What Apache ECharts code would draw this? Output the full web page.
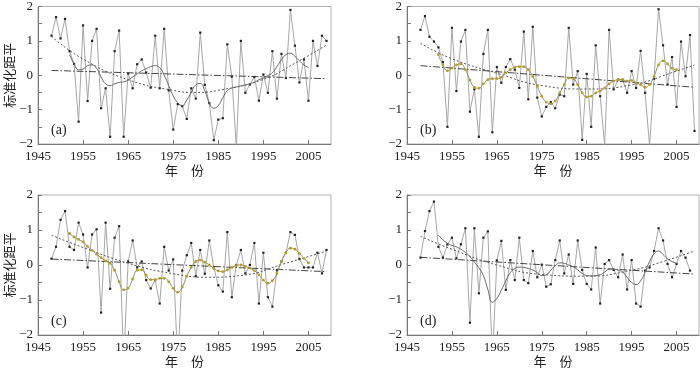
<!DOCTYPE html>
<html>
<head>
<meta charset="utf-8">
<script src="https://cdn.jsdelivr.net/npm/echarts@6/dist/echarts.min.js"></script>
<style>
  html, body { margin: 0; padding: 0; background: #fff; }
  #chart { width: 700px; height: 369px; }
</style>
</head>
<body>
<div id="chart"></div>
<script>
// años de inicio de cada serie
const rawStart = 1948;
const smoothStart = 1952;

// (a) datos anuales, media móvil, tendencia polinómica y lineal
const rawA = [1.15, 1.69, 1.07, 1.64, 0.70, 0.33, -1.35, 1.45, -0.75, 1.0,
  1.35, -0.96, -0.38, -1.79, 0.70, 1.30, -1.79, 0.05, -0.38, 0.32,
  0.46, 0.08, -0.36, 1.15, -0.38, 1.35, -0.44, -1.58, -0.84, -0.9,
  -1.27, -0.38, -0.68, 1.24, -0.28, -0.81, -1.89, -1.29, -1.25, 0.90,
  -0.04, -2.1, 1.0, -0.51, -0.27, -0.05, -0.74, 0.02, -0.51, 0.70,
  -0.68, 0.62, -0.08, 1.90, 0.86, -0.21, 0.46, -0.74, 1.0, 0.27,
  1.15, 1.0];
const smoothA = [0.6, 0.33, 0.16, 0.18, 0.28, 0.3, 0.2, -0.05, -0.25, -0.3,
  -0.25, -0.21, -0.19, -0.14, -0.05, 0.04, 0.13, 0.19, 0.25, 0.28,
  0.22, 0.0, -0.3, -0.6, -0.8, -0.88, -0.72, -0.5, -0.28, -0.24,
  -0.45, -0.8, -0.96, -0.88, -0.65, -0.45, -0.37, -0.34, -0.31, -0.28,
  -0.25, -0.2, -0.13, -0.08, -0.01, 0.07, 0.25, 0.45, 0.6, 0.64,
  0.55, 0.42, 0.3, 0.22];
const polyYearsA = [1948, 1955, 1965, 1975, 1980, 1985, 1995, 2002, 2009];
const polyA = [1.13, 0.47, -0.13, -0.44, -0.5, -0.44, -0.12, 0.35, 0.88];
const linYears = [1948, 2009];
const linA = [0.14, -0.10];

// (b)
const rawB = [1.32, 1.72, 1.12, 0.98, 0.81, 0.38, -1.5, 1.38, -0.46, 0.98,
  1.32, -1.06, -0.41, -1.79, 0.62, 1.32, -1.66, 0.24, -0.22, 0.24,
  0.47, 0.16, -0.37, 1.27, -0.7, 1.41, -0.65, -1.2, -0.92, -0.78,
  -0.96, -0.56, -0.61, 1.38, -0.27, 0.12, -1.88, 0.04, -1.5, 0.87,
  -0.61, -2.05, 1.32, -0.41, -0.13, -0.13, -0.51, 0.12, -0.37, 0.71,
  -0.51, -2.05, -0.1, 1.92, 0.87, -0.27, 0.53, -0.92, 0.98, -0.03,
  1.17, -1.62];
const smoothB = [0.6, 0.3, 0.13, 0.21, 0.3, 0.33, 0.16, -0.14, -0.35, -0.38,
  -0.25, -0.13, -0.1, -0.1, -0.06, 0.07, 0.16, 0.23, 0.25, 0.25,
  0.16, -0.03, -0.32, -0.61, -0.78, -0.83, -0.75, -0.51, -0.27, -0.08,
  -0.1, -0.27, -0.51, -0.63, -0.61, -0.51, -0.46, -0.37, -0.25, -0.17,
  -0.13, -0.13, -0.17, -0.15, -0.22, -0.27, -0.35, -0.27, -0.03, 0.3,
  0.42, 0.33, 0.21, 0.16];
const polyYearsB = [1948, 1955, 1965, 1975, 1985, 1995, 2005, 2009];
const polyB = [0.93, 0.48, 0.06, -0.3, -0.4, -0.28, 0.12, 0.3];
const linB = [0.28, -0.35];

// (c)
const rawC = [0.18, 0.52, 1.29, 1.54, 0.52, 0.43, 1.21, 0.87, -0.07, 0.87,
  1.02, -1.36, 1.21, -0.68, 0.78, 1.11, -2.8, 0.1, 0.7, -0.07,
  0.1, -0.43, -0.67, -0.43, -1.1, 0.52, -0.16, 0.16, -2.8, -0.16,
  0.28, 0.63, -0.32, 0.43, -0.25, 0.7, -0.07, -0.58, -0.76, 0.94,
  -0.92, 0.0, 0.43, -0.24, 0.0, 0.63, -1.1, 0.35, -0.92, -1.19,
  -0.15, 0.1, 0.35, 0.94, 0.86, 0.17, -0.07, -0.07, -0.07, 0.35,
  -0.24, 0.43];
const smoothC = [0.9, 0.8, 0.73, 0.66, 0.53, 0.42, 0.31, 0.21, 0.12, 0.05,
  -0.15, -0.48, -0.71, -0.66, -0.4, -0.15, -0.14, -0.29, -0.42, -0.42,
  -0.38, -0.38, -0.48, -0.67, -0.78, -0.63, -0.32, -0.07, 0.1, 0.14,
  0.08, 0.0, -0.1, -0.17, -0.19, -0.14, -0.07, -0.02, 0.0, -0.04,
  -0.09, -0.16, -0.28, -0.43, -0.52, -0.45, -0.24, 0.1, 0.35, 0.48,
  0.45, 0.33, 0.19, 0.06];
const polyYearsC = [1948, 1955, 1965, 1975, 1983, 1990, 2000, 2009];
const polyC = [0.85, 0.5, 0.05, -0.25, -0.35, -0.3, 0.05, 0.4];
const linC = [0.17, -0.19];

// (d)
const rawD = [0.21, 0.97, 1.54, 1.81, 0.52, 0.21, 0.59, 0.78, 0.19, 0.59,
  1.05, -1.65, 1.05, -0.81, 0.78, 0.96, -2.8, 0.13, 0.69, -0.71,
  0.14, -0.43, 0.78, -0.43, -0.52, 0.4, -0.35, 0.01, -0.62, -0.55,
  0.14, 0.7, -0.24, 0.3, -0.54, 0.7, -0.14, -0.54, -0.7, 0.5,
  -1.1, 0.03, 0.14, -0.14, -0.35, 0.3, -0.7, 0.14, -1.1, -1.19,
  -0.16, -0.07, 0.4, 1.05, 0.7, 0.03, -0.35, 0.03, 0.4, 0.21,
  -0.16];
const smoothD = [0.85, 0.72, 0.62, 0.56, 0.52, 0.45, 0.36, 0.24, 0.08, -0.08,
  -0.3, -0.7, -1.06, -0.95, -0.72, -0.45, -0.22, -0.1, -0.06, -0.07,
  -0.1, -0.14, -0.22, -0.3, -0.28, -0.15, -0.02, 0.06, 0.05, 0.0,
  -0.05, -0.14, -0.24, -0.3, -0.31, -0.3, -0.28, -0.2, -0.12, -0.12,
  -0.15, -0.2, -0.35, -0.5, -0.56, -0.45, -0.2, 0.1, 0.32, 0.4,
  0.3, 0.18, 0.1, 0.05];
const polyYearsD = [1948, 1955, 1965, 1975, 1985, 1995, 2002, 2009];
const polyD = [0.82, 0.45, 0.0, -0.27, -0.32, -0.15, 0.1, 0.4];
const linD = [0.22, -0.26];

const panelNames = ['(a)', '(b)', '(c)', '(d)'];
const yTitle = '标准化距平';
const xTitle = '年\u3000份';

function pares(inicio, valores) {
  return valores.map((v, i) => [inicio + i, v]);
}
function zipear(xs, ys) {
  return xs.map((x, i) => [x, ys[i]]);
}

const paneles = [
  { raw: rawA, smooth: smoothA, olive: false, py: polyYearsA, p: polyA, lin: linA },
  { raw: rawB, smooth: smoothB, olive: true, py: polyYearsB, p: polyB, lin: linB },
  { raw: rawC, smooth: smoothC, olive: true, py: polyYearsC, p: polyC, lin: linC },
  { raw: rawD, smooth: smoothD, olive: false, py: polyYearsD, p: polyD, lin: linD }
];

const grids = [
  { left: 38, top: 4, width: 293, height: 140 },
  { left: 407, top: 4, width: 292, height: 140 },
  { left: 38, top: 195, width: 293, height: 140 },
  { left: 407, top: 195, width: 292, height: 140 }
].map(g => Object.assign(g, { show: true, borderColor: '#b0b0b0', borderWidth: 1, backgroundColor: 'transparent' }));

const fuenteNum = "'Liberation Serif', 'DejaVu Serif', serif";
const fuenteCJK = "'Noto Sans CJK SC', sans-serif";
const ejeColor = '#777';

const xAxes = grids.map((g, i) => ({
  type: 'value',
  gridIndex: i,
  min: 1945,
  max: 2010,
  interval: 10,
  name: xTitle,
  nameLocation: 'middle',
  nameGap: 20,
  nameTextStyle: { fontFamily: fuenteCJK, fontSize: 13, color: '#222' },
  axisLine: { onZero: false, lineStyle: { color: ejeColor } },
  axisTick: { inside: true, length: 4, lineStyle: { color: ejeColor } },
  axisLabel: {
    showMaxLabel: false,
    margin: 6,
    fontFamily: fuenteNum, fontSize: 13, color: '#222',
    formatter: v => String(v)
  },
  splitLine: { show: false }
}));

const yAxes = grids.map((g, i) => ({
  type: 'value',
  gridIndex: i,
  min: -2,
  max: 2,
  interval: 1,
  name: (i % 2 === 0) ? yTitle : '',
  nameLocation: 'middle',
  nameGap: 17,
  nameTextStyle: { fontFamily: fuenteCJK, fontSize: 13, color: '#222' },
  axisLine: { onZero: false, lineStyle: { color: ejeColor } },
  axisTick: { inside: true, length: 4, lineStyle: { color: ejeColor } },
  minorTick: { show: true, splitNumber: 2, length: 4, lineStyle: { color: ejeColor } },
  axisLabel: {
    margin: 5,
    fontFamily: fuenteNum, fontSize: 13, color: '#222',
    formatter: v => String(v).replace('-', '\u2212')
  },
  splitLine: { show: false },
  minorSplitLine: { show: false }
}));

const series = [];
paneles.forEach((p, i) => {
  series.push({
    type: 'line', xAxisIndex: i, yAxisIndex: i,
    data: pares(rawStart, p.raw),
    symbol: 'rect', symbolSize: 2.2,
    itemStyle: { color: '#222' },
    lineStyle: { color: '#a6a6a6', width: 1 },
    z: 2
  });
  series.push({
    type: 'line', xAxisIndex: i, yAxisIndex: i,
    data: zipear(linYears, p.lin),
    showSymbol: false,
    lineStyle: { color: '#444', width: 1, type: [7, 2, 1.5, 2] },
    z: 3
  });
  series.push({
    type: 'line', xAxisIndex: i, yAxisIndex: i,
    data: zipear(p.py, p.p),
    smooth: true, showSymbol: false,
    lineStyle: { color: '#555', width: 1, type: [2, 2] },
    z: 3
  });
  if (p.olive) {
    series.push({
      type: 'line', xAxisIndex: i, yAxisIndex: i,
      data: pares(smoothStart, p.smooth),
      smooth: true,
      symbol: 'circle', symbolSize: 2.8,
      itemStyle: { color: '#b89d25' },
      lineStyle: { color: '#8f8c6a', width: 1 },
      z: 4
    });
  } else {
    series.push({
      type: 'line', xAxisIndex: i, yAxisIndex: i,
      data: pares(smoothStart, p.smooth),
      smooth: true, showSymbol: false,
      lineStyle: { color: '#666', width: 1 },
      z: 4
    });
  }
});

const etiquetas = grids.map((g, i) => ({
  type: 'text',
  left: g.left + 13,
  top: g.top + 119,
  style: { text: panelNames[i], font: "14px 'Liberation Serif', serif", fill: '#222' }
}));

const chart = echarts.init(document.getElementById('chart'));
chart.setOption({
  animation: false,
  grid: grids,
  xAxis: xAxes,
  yAxis: yAxes,
  series: series,
  graphic: etiquetas
});
</script>
</body>
</html>
